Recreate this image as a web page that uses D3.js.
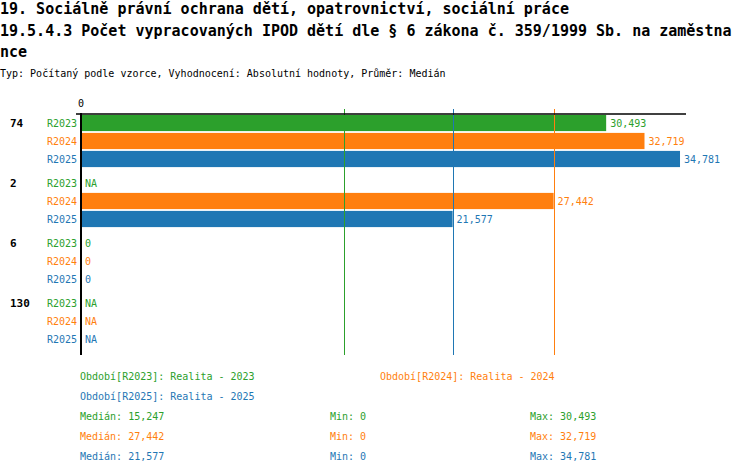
<!DOCTYPE html>
<html>
<head>
<meta charset="utf-8">
<script src="https://cdn.jsdelivr.net/npm/d3@7"></script>
<style>
  body { margin: 0; background: #fff; }
  svg { display: block; font-family: "DejaVu Sans Mono", monospace; }
</style>
</head>
<body>
<div id="chart"></div>
<script>
// nadpis (zalomený po znacích jako v originálu)
const titleLines = [
    "19. Sociálně právní ochrana dětí, opatrovnictví, sociální práce",
    "19.5.4.3 Počet vypracovaných IPOD dětí dle § 6 zákona č. 359/1999 Sb. na zaměstna",
    "nce"
];
const subtitle = "Typ: Počítaný podle vzorce, Vyhodnocení: Absolutní hodnoty, Průměr: Medián";

// kategorie a období
const categories = ["74", "2", "6", "130"];
const periods = ["R2023", "R2024", "R2025"];
const periodNames = ["Realita - 2023", "Realita - 2024", "Realita - 2025"];
const colors = ["#2ca02c", "#ff7f0e", "#1f77b4"];

// hodnoty (null = NA)
const valuesR2023 = [30493, null, 0, null];
const valuesR2024 = [32719, 27442, 0, null];
const valuesR2025 = [34781, 21577, 0, null];
const seriesValues = [valuesR2023, valuesR2024, valuesR2025];

const W = 750, H = 474;
const fmt = d3.format(",.0f");

const svg = d3.select('#chart').append('svg')
    .attr('width', W)
    .attr('height', H);

// nadpisy
svg.selectAll('.title')
    .data(titleLines)
    .enter()
    .append('text')
    .attr('class', 'title')
    .attr('x', 0)
    .attr('y', (d, i) => 14 + i * 21.5)
    .attr('font-size', 15)
    .attr('font-weight', 'bold')
    .attr('fill', '#000')
    .text(d => d);

svg.append('text')
    .attr('x', 0)
    .attr('y', 77)
    .attr('font-size', 10)
    .attr('fill', '#000')
    .text(subtitle);

// škály
const allValues = seriesValues.flat().filter(v => v != null);
const x = d3.scaleLinear()
    .domain([0, d3.max(allValues) * 1.01])
    .range([81, 686]);

const yGroup = d3.scaleBand()
    .domain(categories)
    .range([114, 354]);

const yInner = d3.scaleBand()
    .domain(periods)
    .range([0, 54])
    .paddingInner(0.1)
    .paddingOuter(0.05);

const rowY = (cat, per) => yGroup(cat) + yInner(per);
const rowMid = (cat, per) => rowY(cat, per) + yInner.bandwidth() / 2;

// data pro řádky
const rows = [];
categories.forEach((cat, ci) => {
    periods.forEach((per, pi) => {
        rows.push({ cat, per, pi, value: seriesValues[pi][ci] });
    });
});

// sloupce
svg.append('g')
    .selectAll('rect')
    .data(rows.filter(d => d.value != null && d.value > 0))
    .enter()
    .append('rect')
    .attr('x', x(0) + 1)
    .attr('y', d => rowY(d.cat, d.per))
    .attr('width', d => x(d.value) - x(0) - 1)
    .attr('height', yInner.bandwidth())
    .attr('fill', d => colors[d.pi]);

// mediány
const medians = seriesValues.map(vals => d3.median(vals.filter(v => v != null)));
const mins = seriesValues.map(vals => d3.min(vals.filter(v => v != null)));
const maxs = seriesValues.map(vals => d3.max(vals.filter(v => v != null)));

svg.append('g')
    .selectAll('line')
    .data(medians)
    .enter()
    .append('line')
    .attr('x1', d => Math.round(x(d)) + 0.5)
    .attr('x2', d => Math.round(x(d)) + 0.5)
    .attr('y1', 109)
    .attr('y2', 355)
    .attr('stroke', (d, i) => colors[i])
    .attr('stroke-width', 1);

// osa
const axis = svg.append('g');
axis.append('line')
    .attr('x1', x(0)).attr('x2', x.range()[1])
    .attr('y1', 114).attr('y2', 114)
    .attr('stroke', '#000')
    .attr('stroke-width', 1.5);
axis.append('line')
    .attr('x1', x(0)).attr('x2', x(0))
    .attr('y1', 113).attr('y2', 355)
    .attr('stroke', '#000')
    .attr('stroke-width', 2);
axis.append('line')
    .attr('x1', x(0) - 5).attr('x2', x(0))
    .attr('y1', 114).attr('y2', 114)
    .attr('stroke', '#000')
    .attr('stroke-width', 1.5);
axis.append('text')
    .attr('x', x(0))
    .attr('y', 107)
    .attr('text-anchor', 'middle')
    .attr('font-size', 10)
    .text(fmt(0));

// popisky kategorií
svg.append('g')
    .selectAll('text')
    .data(categories)
    .enter()
    .append('text')
    .attr('x', 10)
    .attr('y', d => rowMid(d, periods[0]))
    .attr('dy', '0.35em')
    .attr('font-size', 11)
    .attr('font-weight', 'bold')
    .text(d => d);

// popisky období
svg.append('g')
    .selectAll('text')
    .data(rows)
    .enter()
    .append('text')
    .attr('x', 77)
    .attr('y', d => rowMid(d.cat, d.per))
    .attr('dy', '0.35em')
    .attr('text-anchor', 'end')
    .attr('font-size', 10)
    .attr('fill', d => colors[d.pi])
    .text(d => d.per);

// hodnoty
svg.append('g')
    .selectAll('text')
    .data(rows)
    .enter()
    .append('text')
    .attr('x', d => (d.value ? x(d.value) : x(0)) + 4)
    .attr('y', d => rowMid(d.cat, d.per))
    .attr('dy', '0.35em')
    .attr('font-size', 10)
    .attr('fill', d => colors[d.pi])
    .text(d => d.value == null ? 'NA' : fmt(d.value));

// legenda
const legend = svg.append('g').attr('font-size', 10);
const legendPos = [[80, 380], [380, 380], [80, 400]];
periods.forEach((per, i) => {
    legend.append('text')
        .attr('x', legendPos[i][0])
        .attr('y', legendPos[i][1])
        .attr('fill', colors[i])
        .text(`Období[${per}]: ${periodNames[i]}`);
});

// statistiky
periods.forEach((per, i) => {
    const yy = 420 + i * 20;
    legend.append('text').attr('x', 80).attr('y', yy).attr('fill', colors[i])
        .text(`Medián: ${fmt(medians[i])}`);
    legend.append('text').attr('x', 330).attr('y', yy).attr('fill', colors[i])
        .text(`Min: ${fmt(mins[i])}`);
    legend.append('text').attr('x', 530).attr('y', yy).attr('fill', colors[i])
        .text(`Max: ${fmt(maxs[i])}`);
});
</script>
</body>
</html>
